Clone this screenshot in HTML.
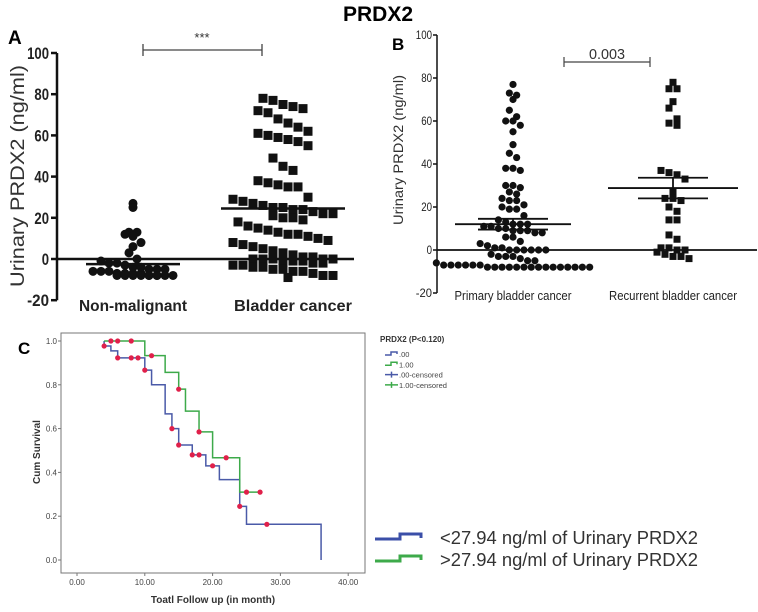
<!DOCTYPE html>
<html><head><meta charset="utf-8"><style>
html,body{margin:0;padding:0;background:#fff;}
svg{display:block;font-family:"Liberation Sans",sans-serif;}
</style></head><body>
<svg id="fig" width="758" height="612" viewBox="0 0 758 612">
<text x="378" y="21" text-anchor="middle" font-size="21" font-weight="bold">PRDX2</text>
<g id="pA"></g>
<g id="pB"></g>
<g id="pC"></g>
</svg>
<script>
// ---- Panel A data ----
const aCategories = ["Non-malignant", "Bladder cancer"];
const aNonMalignant = [27,25,13,13,12,11,8,6,3,0,-1,-2,-2,-3,-4,-4,-5,-5,-5,-6,-6,-6,-7,-7,-7,-7,-8,-8,-8,-8,-8,-8,-8,-8,-8,-8];
const aBladder = [78,77,75,74,73,72,71,68,66,64,62,61,60,59,58,57,55,49,45,43,38,37,36,35,35,30,29,28,27,26,25,25,24,24,23,22,22,21,20,20,19,18,16,15,14,13,12,12,11,10,9,8,7,6,5,4,3,2,1,1,0,0,0,0,0,-1,-1,-1,-2,-2,-3,-3,-4,-4,-5,-5,-6,-6,-7,-8,-8,-9];
const aMeans = [-2.5, 24.5];
const aTicks = [-20,0,20,40,60,80,100];
// ---- Panel B data ----
const bCategories = ["Primary bladder cancer", "Recurrent bladder cancer"];
const bPrimary = [77,73,72,70,65,62,60,60,58,55,49,45,43,38,38,37,30,30,29,27,26,24,23,23,21,20,19,19,16,14,13,12,12,12,11,11,10,10,9,9,9,8,8,6,6,4,3,2,1,1,0,0,0,0,0,0,-2,-3,-3,-3,-4,-5,-5,-6,-7,-7,-7,-7,-7,-7,-8,-8,-8,-8,-8,-8,-8,-8,-8,-8,-8,-8,-8,-8,-8];
const bRecurrent = [78,75,75,69,66,61,59,58,37,36,35,33,27,24,24,23,20,18,14,14,7,5,1,1,0,0,-1,-2,-3,-3,-4];
const bMeans = [12, 28.8];
const bSem = [2.5, 4.8];
const bTicks = [-20,0,20,40,60,80,100];
// ---- Panel C data ----
const cBlueTimes = [4,5,6,10,11,13,14,15,17,19,21,24,25,36];
const cBlueSurv = [0.977,0.955,0.923,0.867,0.8,0.667,0.6,0.525,0.48,0.43,0.367,0.245,0.163,0];
const cBlueCensT = [4,6,8,9,10,14,15,17,18,20,24,28];
const cBlueCensS = [0.977,0.923,0.923,0.923,0.867,0.6,0.525,0.48,0.48,0.43,0.245,0.163];
const cGreenTimes = [10,13,15,16,18,20,24];
const cGreenSurv = [0.933,0.857,0.78,0.68,0.585,0.467,0.31];
const cGreenStart = 4, cGreenEnd = 27;
const cGreenCensT = [5,6,8,11,15,18,22,25,27];
const cGreenCensS = [1,1,1,0.933,0.78,0.585,0.467,0.31,0.31];
const cXTicks = [0,10,20,30,40];
const cYTicks = [0,0.2,0.4,0.6,0.8,1.0];

const NS="http://www.w3.org/2000/svg";
function mk(parent,tag,attrs,text){const e=document.createElementNS(NS,tag);for(const k in attrs)e.setAttribute(k,attrs[k]);if(text!==undefined)e.textContent=text;parent.appendChild(e);return e;}

// binned dot layout: points grouped into vertical bins, spread horizontally (bounded width)
function swarm(vals,cx,d,ys,binH,maxCols){
  const sorted=vals.slice().sort((a,b)=>b-a);
  const bins=new Map();
  sorted.forEach(v=>{const b=Math.floor(ys(v)/binH);if(!bins.has(b))bins.set(b,[]);bins.get(b).push(v);});
  const out=[];
  bins.forEach(list=>{const n=list.length;
    list.forEach((v,j)=>{const row=Math.floor(j/maxCols);const inRow=Math.min(maxCols,n-row*maxCols);const col=j%maxCols;
      const shift=(row%2)*d*0.5;
      out.push({x:cx+(col-(inRow-1)/2)*d+shift,y:ys(v),v});});
  });return out;}

// ---------- Panel A ----------
(function(){
const g=document.getElementById('pA');
const ys=v=>259-v*2.06;const xAxis=57;const cx=[133,283];
mk(g,'text',{x:8,y:44,'font-size':19,'font-weight':'bold',},'A');
mk(g,'line',{x1:xAxis,y1:ys(100),x2:xAxis,y2:ys(-20),stroke:'#111','stroke-width':2.5,});
aTicks.forEach(t=>{
  const l=mk(g,'line',{x1:xAxis-6,y1:ys(t),x2:xAxis,y2:ys(t),stroke:'#111','stroke-width':2.5});
  
  
  const s=String(t);
  const tx=mk(g,'text',{x:xAxis-8,y:ys(t)+6,'text-anchor':'end','font-size':17,'font-weight':'bold',fill:'#222',textLength:s.length*7.3,lengthAdjust:'spacingAndGlyphs'},s);
  
  
});
mk(g,'text',{transform:'translate(24,176) rotate(-90)','text-anchor':'middle','font-size':19,fill:'#333',textLength:222,lengthAdjust:'spacingAndGlyphs',},'Urinary PRDX2 (ng/ml)');
mk(g,'line',{x1:xAxis,y1:ys(0),x2:354,y2:ys(0),stroke:'#111','stroke-width':2.5,});
swarm(aNonMalignant,cx[0],8,ys,9,11).forEach(p=>{const c=mk(g,'circle',{cx:p.x,cy:p.y,r:4.5,fill:'#111'});
  
  });
swarm(aBladder,cx[1],10,ys,22,11).forEach(p=>{const r=mk(g,'rect',{x:p.x-4.5,y:p.y-4.5,width:9,height:9,fill:'#111'});
  
  });
[[cx[0],aMeans[0],47],[cx[1],aMeans[1],62]].forEach(m=>{const l=mk(g,'line',{x1:m[0]-m[2],y1:ys(m[1]),x2:m[0]+m[2],y2:ys(m[1]),stroke:'#111','stroke-width':2.5});
  
  });
aCategories.forEach((c,i)=>{const t=mk(g,'text',{x:cx[i]+(i?10:0),y:311,'text-anchor':'middle','font-size':15.5,'font-weight':'bold',fill:'#222',textLength:i?118:108,lengthAdjust:'spacingAndGlyphs'},c);
  
  });
mk(g,'path',{d:'M143,44 V56 M143,50 H262 M262,44 V56',stroke:'#444','stroke-width':1.3,fill:'none',});
mk(g,'text',{x:202,y:42,'text-anchor':'middle','font-size':13,fill:'#333',},'***');
})();

// ---------- Panel B ----------
(function(){
const g=document.getElementById('pB');
const ys=v=>250-v*2.15;const xAxis=437;const cx=[513,673];
mk(g,'text',{x:392,y:50,'font-size':17,'font-weight':'bold',},'B');
mk(g,'line',{x1:xAxis,y1:ys(100),x2:xAxis,y2:ys(-20),stroke:'#111','stroke-width':1.5,});
bTicks.forEach(t=>{
  const l=mk(g,'line',{x1:xAxis-4,y1:ys(t),x2:xAxis,y2:ys(t),stroke:'#111','stroke-width':1.5});
  
  
  const s=String(t);
  const tx=mk(g,'text',{x:xAxis-5,y:ys(t)+4,'text-anchor':'end','font-size':12,fill:'#222',textLength:s.length*5.4,lengthAdjust:'spacingAndGlyphs'},s);
  
  
});
mk(g,'text',{transform:'translate(403,150) rotate(-90)','text-anchor':'middle','font-size':14,fill:'#333',textLength:150,lengthAdjust:'spacingAndGlyphs',},'Urinary PRDX2 (ng/ml)');
mk(g,'line',{x1:xAxis,y1:ys(0),x2:757,y2:ys(0),stroke:'#111','stroke-width':1.8,});
swarm(bPrimary,cx[0],7.3,ys,9,22).forEach(p=>{const c=mk(g,'circle',{cx:p.x,cy:p.y,r:3.6,fill:'#111'});
  
  });
swarm(bRecurrent,cx[1],8,ys,12,6).forEach(p=>{const r=mk(g,'rect',{x:p.x-3.5,y:p.y-3.5,width:7,height:7,fill:'#111'});
  
  });
[[cx[0],bMeans[0],bSem[0],58],[cx[1],bMeans[1],bSem[1],65]].forEach(m=>{
  const l=mk(g,'line',{x1:m[0]-m[3],y1:ys(m[1]),x2:m[0]+m[3],y2:ys(m[1]),stroke:'#111','stroke-width':1.8});
  
  
  const e=mk(g,'path',{d:`M${m[0]-35},${ys(m[1]+m[2])} H${m[0]+35} M${m[0]-35},${ys(m[1]-m[2])} H${m[0]+35} M${m[0]},${ys(m[1]+m[2])} V${ys(m[1]-m[2])}`,stroke:'#111','stroke-width':1.8,fill:'none'});
  
  
});
bCategories.forEach((c,i)=>{const t=mk(g,'text',{x:cx[i],y:300,'text-anchor':'middle','font-size':12.5,fill:'#222',textLength:i?128:117,lengthAdjust:'spacingAndGlyphs'},c);
  
  });
mk(g,'path',{d:'M564,57 V67 M564,62 H650 M650,57 V67',stroke:'#444','stroke-width':1.2,fill:'none',});
mk(g,'text',{x:607,y:59,'text-anchor':'middle','font-size':15,fill:'#333',textLength:36,lengthAdjust:'spacingAndGlyphs',},'0.003');
})();

// ---------- Panel C ----------
(function(){
const g=document.getElementById('pC');
const xs=t=>77+t*6.78;const ys=s=>560-s*219;
mk(g,'text',{x:18,y:354,'font-size':17,'font-weight':'bold',},'C');
mk(g,'rect',{x:61,y:333,width:304,height:240,fill:'none',stroke:'#777','stroke-width':1,});
cYTicks.forEach(t=>{const l=mk(g,'line',{x1:58,y1:ys(t),x2:61,y2:ys(t),stroke:'#777'});
  
  
  const tx=mk(g,'text',{x:57,y:ys(t)+3,'text-anchor':'end','font-size':8,fill:'#444'},t.toFixed(1));
  
  });
cXTicks.forEach(t=>{const l=mk(g,'line',{x1:xs(t),y1:573,x2:xs(t),y2:576,stroke:'#777'});
  
  
  const tx=mk(g,'text',{x:xs(t),y:585,'text-anchor':'middle','font-size':8,fill:'#444'},t.toFixed(2));
  
  });
mk(g,'text',{x:213,y:603,'text-anchor':'middle','font-size':10,'font-weight':'bold',fill:'#333',},'Toatl Follow up (in month)');
mk(g,'text',{transform:'translate(40,452) rotate(-90)','text-anchor':'middle','font-size':10,'font-weight':'bold',fill:'#333',},'Cum Survival');
let d=`M${xs(4)},${ys(1)}`;
cBlueTimes.forEach((t,i)=>{d+=` H${xs(t)} V${ys(cBlueSurv[i])}`;});
mk(g,'path',{d,stroke:'#4a5aa8','stroke-width':1.5,fill:'none',});
let d2=`M${xs(cGreenStart)},${ys(1)}`;
cGreenTimes.forEach((t,i)=>{d2+=` H${xs(t)} V${ys(cGreenSurv[i])}`;});
d2+=` H${xs(cGreenEnd)}`;
mk(g,'path',{d:d2,stroke:'#3daa4a','stroke-width':1.5,fill:'none',});
cBlueCensT.forEach((t,i)=>{const c=mk(g,'circle',{cx:xs(t),cy:ys(cBlueCensS[i]),r:2.6,fill:'#e0204a'});
  
  });
cGreenCensT.forEach((t,i)=>{const c=mk(g,'circle',{cx:xs(t),cy:ys(cGreenCensS[i]),r:2.6,fill:'#e0204a'});
  
  });
mk(g,'text',{x:380,y:342,'font-size':8,'font-weight':'bold',fill:'#333',},'PRDX2 (P<0.120)');
const leg=[['.00','#4a5aa8',0],['1.00','#3daa4a',0],['.00-censored','#4a5aa8',1],['1.00-censored','#3daa4a',1]];
leg.forEach((e,i)=>{const y=354+i*10.3;
  const ic=mk(g,'path',{d:e[2]?`M385,${y} H398 M391.5,${y-3} V${y+3}`:`M385,${y+1} H391 V${y-2} H397 V${y}`,stroke:e[1],'stroke-width':1.5,fill:'none'});
  
  
  const t=mk(g,'text',{x:399,y:y+3,'font-size':7.5,fill:'#444'},e[0]);
  
  });
[['<27.94 ng/ml of Urinary PRDX2','#3b4fa8',537],['>27.94 ng/ml of Urinary PRDX2','#3daa4a',559]].forEach(e=>{const y=e[2];
  const ic=mk(g,'path',{d:`M375,${y+2} H400 V${y-3} H421 V${y+1}`,stroke:e[1],'stroke-width':3,fill:'none'});
  
  
  const t=mk(g,'text',{x:440,y:y+7,'font-size':18.5,fill:'#333',textLength:258,lengthAdjust:'spacingAndGlyphs'},e[0]);
  
  });
})();
</script>
</body></html>
